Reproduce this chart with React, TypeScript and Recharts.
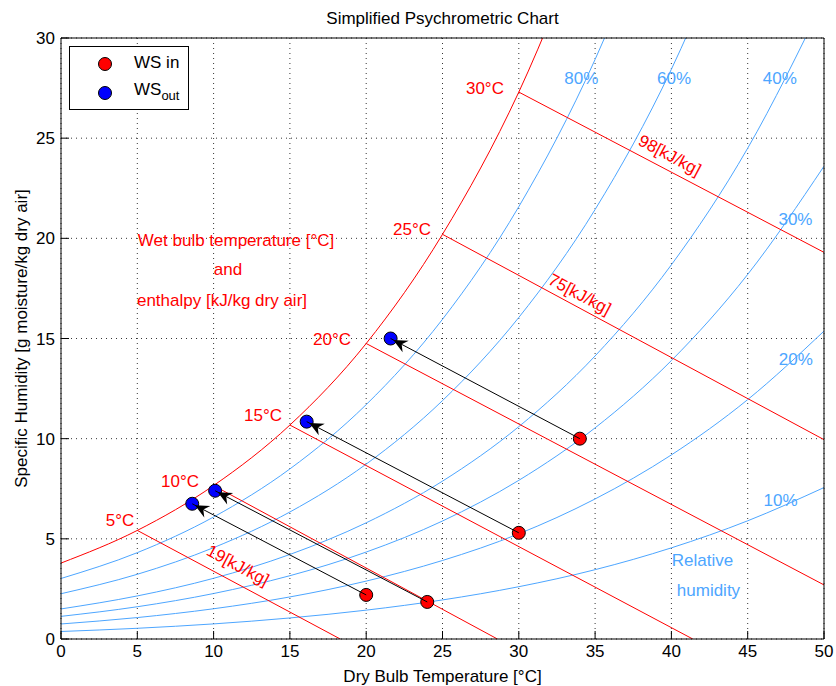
import React from "react";
import { ComposedChart, Line, Scatter, XAxis, YAxis, CartesianGrid } from "recharts";

// dry bulb temperature [°C] at which the curves were read
const dryBulb = [0, 5, 10, 15, 20, 25, 30, 35, 40, 45, 50];

// specific humidity [g/kg]
const saturation = [3.79, 5.42, 7.66, 10.68, 14.75, 20.2, 27.3, 36.6];
const rh80 = [3.02, 4.31, 6.09, 8.49, 11.7, 15.96, 21.58, 28.93, 38.5];
const rh60 = [2.26, 3.23, 4.56, 6.34, 8.73, 11.9, 16.05, 21.44, 28.44, 37.5];
const rh40 = [1.5, 2.15, 3.03, 4.22, 5.8, 7.88, 10.6, 14.13, 18.68, 24.5, 31.9];
const rh30 = [1.13, 1.61, 2.27, 3.16, 4.34, 5.89, 7.92, 10.54, 13.9, 18.2, 23.6];
const rh20 = [0.75, 1.07, 1.51, 2.1, 2.89, 3.92, 5.25, 6.99, 9.19, 11.95, 15.37];
const rh10 = [0.375, 0.535, 0.754, 1.05, 1.44, 1.95, 2.61, 3.46, 4.55, 5.9, 7.56];

// constant wet bulb / enthalpy lines: start on saturation, end at frame
const wetBulb = [5, 10, 15, 20, 25, 30];
const wetBulbStartW = [5.42, 7.66, 10.68, 14.75, 20.2, 27.3];
const wetBulbEndT = [18.3, 28.6, 41.4, 50, 50, 50];
const wetBulbEndW = [0, 0, 0, 2.7, 9.95, 19.3];

// process points
const wsInT = [34, 30, 24, 20];
const wsInW = [10, 5.3, 1.85, 2.2];
const wsOutT = [21.6, 16.1, 10.1, 8.6];
const wsOutW = [15, 10.85, 7.4, 6.75];

const xTicks = [0, 5, 10, 15, 20, 25, 30, 35, 40, 45, 50];
const yTicks = [0, 5, 10, 15, 20, 25, 30];

const wetBulbLabels = [
  { x: 3.87, y: 5.94, text: "5°C" },
  { x: 7.8, y: 7.9, text: "10°C" },
  { x: 13.24, y: 11.18, text: "15°C" },
  { x: 17.76, y: 14.98, text: "20°C" },
  { x: 23.0, y: 20.47, text: "25°C" },
  { x: 27.78, y: 27.51, text: "30°C" },
];
const rhLabels = [
  { x: 34.1, y: 27.98, text: "80%" },
  { x: 40.17, y: 27.98, text: "60%" },
  { x: 47.1, y: 27.98, text: "40%" },
  { x: 48.13, y: 20.94, text: "30%" },
  { x: 48.15, y: 13.98, text: "20%" },
  { x: 47.15, y: 6.94, text: "10%" },
  { x: 42.04, y: 3.94, text: "Relative" },
  { x: 42.43, y: 2.42, text: "humidity" },
];
const enthalpyLabels = [
  { x: 11.6, y: 3.69, text: "19[kJ/kg]" },
  { x: 34.0, y: 17.22, text: "75[kJ/kg]" },
  { x: 39.9, y: 24.16, text: "98[kJ/kg]" },
];
const noteLabels = [
  { x: 11.47, y: 19.92, text: "Wet bulb temperature [°C]" },
  { x: 10.94, y: 18.45, text: "and" },
  { x: 10.55, y: 16.9, text: "enthalpy [kJ/kg dry air]" },
];

const RED = "#ff0000";
const BLUE = "#4da6ff";
const FONT = "'Liberation Sans', Arial, Helvetica, sans-serif";

const toPoints = (ys: number[]) => ys.map((y, i) => ({ x: dryBulb[i], y }));

const rhSeries = [rh80, rh60, rh40, rh30, rh20, rh10].map(toPoints);
const satSeries = toPoints(saturation);
const wetBulbSeries = wetBulb.map((_, i) => [
  { x: wetBulb[i], y: wetBulbStartW[i] },
  { x: wetBulbEndT[i], y: wetBulbEndW[i] },
]);
const arrowSeries = wsInT.map((_, i) => [
  { x: wsInT[i], y: wsInW[i] },
  { x: wsOutT[i], y: wsOutW[i] },
]);
const wsIn = wsInT.map((x, i) => ({ x, y: wsInW[i] }));
const wsOut = wsOutT.map((x, i) => ({ x, y: wsOutW[i] }));

const textShape = (fill: string, angle = 0) => (p: any) => (
  <text
    x={p.cx}
    y={p.cy}
    dy="0.35em"
    fill={fill}
    fontSize={17}
    fontFamily={FONT}
    textAnchor="middle"
    transform={angle ? `rotate(${angle} ${p.cx} ${p.cy})` : undefined}
  >
    {p.payload.text}
  </text>
);

const dotShape = (fill: string) => (p: any) => (
  <circle cx={p.cx} cy={p.cy} r={6.5} fill={fill} stroke="#000" strokeWidth={1} />
);

const noShape = () => <g />;

const tickStyle = { fill: "#000", fontSize: 17, fontFamily: FONT };

export default function App() {
  return (
    <div style={{ position: "absolute", left: 0, top: 0, width: 836, height: 686, background: "#fff" }}>
      <svg width={0} height={0} style={{ position: "absolute" }}>
        <defs>
          <marker
            id="arrowhead"
            markerUnits="userSpaceOnUse"
            markerWidth={18}
            markerHeight={13}
            refX={17}
            refY={6.5}
            orient="auto"
            overflow="visible"
          >
            <path d="M14,6.5 L0,0 L4.5,6.5 L0,13 Z" fill="#000" />
          </marker>
        </defs>
      </svg>
      <ComposedChart width={836} height={686} margin={{ top: 0, right: 0, bottom: 0, left: 0 }}>
        <CartesianGrid stroke="#000" strokeDasharray="1 4" strokeWidth={0.8} />
        <XAxis
          type="number"
          dataKey="x"
          domain={[0, 50]}
          ticks={xTicks}
          allowDataOverflow
          height={47}
          tickSize={-8}
          tickMargin={14}
          tick={tickStyle}
          stroke="#000"
          label={({ viewBox }: any) => (
            <text
              x={viewBox.x + viewBox.width / 2}
              y={682}
              textAnchor="middle"
              fontSize={17}
              fontFamily={FONT}
              fill="#000"
            >
              Dry Bulb Temperature [°C]
            </text>
          )}
        />
        <XAxis
          xAxisId="top"
          orientation="top"
          type="number"
          domain={[0, 50]}
          ticks={xTicks}
          allowDataOverflow
          height={38}
          tickSize={-8}
          tick={false}
          stroke="#000"
          label={({ viewBox }: any) => (
            <text
              x={viewBox.x + viewBox.width / 2}
              y={24}
              textAnchor="middle"
              fontSize={17}
              fontFamily={FONT}
              fill="#000"
            >
              Simplified Psychrometric Chart
            </text>
          )}
        />
        <YAxis
          type="number"
          dataKey="y"
          domain={[0, 30]}
          ticks={yTicks}
          allowDataOverflow
          width={61}
          tickSize={-8}
          tickMargin={14}
          tick={tickStyle}
          stroke="#000"
          label={({ viewBox }: any) => {
            const cx = 21;
            const cy = viewBox.y + viewBox.height / 2;
            return (
              <text
                x={cx}
                y={cy}
                dy="0.35em"
                transform={`rotate(-90 ${cx} ${cy})`}
                textAnchor="middle"
                fontSize={17}
                fontFamily={FONT}
                fill="#000"
              >
                Specific Humidity [g moisture/kg dry air]
              </text>
            );
          }}
        />
        <YAxis
          yAxisId="right"
          orientation="right"
          type="number"
          domain={[0, 30]}
          ticks={yTicks}
          allowDataOverflow
          width={12}
          tickSize={-8}
          tick={false}
          stroke="#000"
        />

        {rhSeries.map((d, i) => (
          <Line
            key={`rh${i}`}
            data={d}
            dataKey="y"
            type="monotone"
            stroke={BLUE}
            strokeWidth={1}
            dot={false}
            activeDot={false}
            isAnimationActive={false}
          />
        ))}
        <Line
          data={satSeries}
          dataKey="y"
          type="monotone"
          stroke={RED}
          strokeWidth={1}
          dot={false}
          activeDot={false}
          isAnimationActive={false}
        />
        {wetBulbSeries.map((d, i) => (
          <Line
            key={`wb${i}`}
            data={d}
            dataKey="y"
            type="linear"
            stroke={RED}
            strokeWidth={1}
            dot={false}
            activeDot={false}
            isAnimationActive={false}
          />
        ))}

        <Scatter data={wsIn} shape={dotShape(RED)} isAnimationActive={false} />
        <Scatter data={wsOut} shape={dotShape("#0000ff")} isAnimationActive={false} />
        {/* arrows as scatter lines so they are drawn over the markers */}
        {arrowSeries.map((d, i) => (
          <Scatter
            key={`ar${i}`}
            data={d}
            shape={noShape}
            line={{ stroke: "#000", strokeWidth: 1, markerEnd: "url(#arrowhead)" }}
            lineType="joint"
            isAnimationActive={false}
          />
        ))}

        <Scatter data={wetBulbLabels} shape={textShape(RED)} isAnimationActive={false} />
        <Scatter data={rhLabels} shape={textShape(BLUE)} isAnimationActive={false} />
        <Scatter data={enthalpyLabels} shape={textShape(RED, 28)} isAnimationActive={false} />
        <Scatter data={noteLabels} shape={textShape(RED)} isAnimationActive={false} />
      </ComposedChart>

      <div
        style={{
          position: "absolute",
          left: 69,
          top: 46,
          width: 118,
          height: 62,
          border: "1px solid #000",
          background: "#fff",
          fontFamily: FONT,
          fontSize: 17,
          color: "#000",
        }}
      >
        <svg width={118} height={62} style={{ position: "absolute", left: 0, top: 0 }}>
          <circle cx={35} cy={17} r={6.5} fill={RED} stroke="#000" />
          <circle cx={35} cy={46} r={6.5} fill="#0000ff" stroke="#000" />
        </svg>
        <div style={{ position: "absolute", left: 64, top: 6, lineHeight: "20px", whiteSpace: "nowrap" }}>WS in</div>
        <div style={{ position: "absolute", left: 64, top: 33, lineHeight: "20px", whiteSpace: "nowrap" }}>
          WS<sub style={{ fontSize: 13, verticalAlign: "-5px", lineHeight: 0 }}>out</sub>
        </div>
      </div>
    </div>
  );
}
